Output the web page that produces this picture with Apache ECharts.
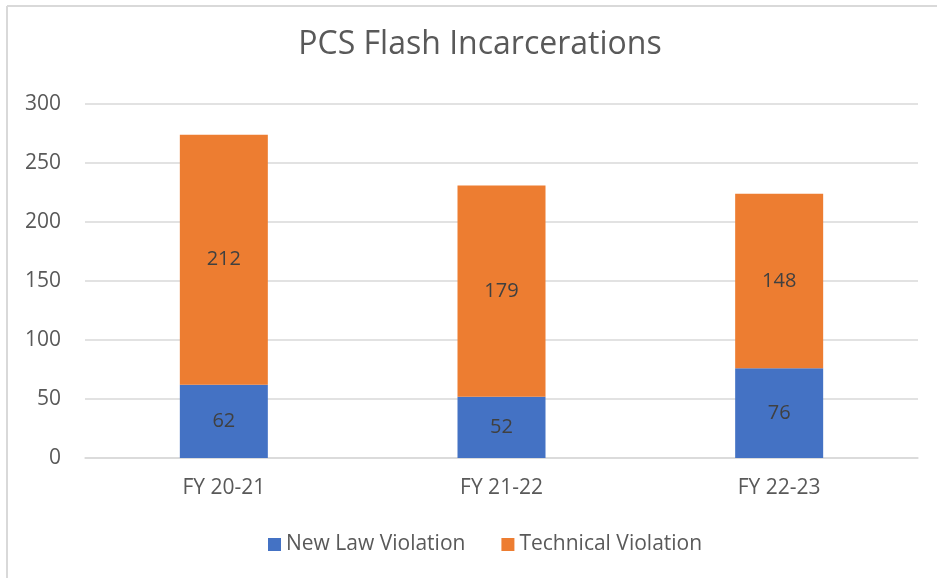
<!DOCTYPE html>
<html>
<head>
<meta charset="utf-8">
<script src="https://cdn.jsdelivr.net/npm/echarts@6/dist/echarts.min.js"></script>
<style>
  html, body { margin: 0; padding: 0; background: #fff; }
  #main { width: 937px; height: 578px; }
</style>
</head>
<body>
<div id="main"></div>
<script>
var categories = ['FY 20-21', 'FY 21-22', 'FY 22-23'];
var newLaw = [62, 52, 76];
var technical = [212, 179, 148];
var yTicks = [0, 50, 100, 150, 200, 250, 300];

var font = 'Open Sans';
var myChart = echarts.init(document.getElementById('main'));

// chart config
var option = {
    backgroundColor: '#fff',
    animation: false,
    title: {
        text: 'PCS Flash Incarcerations',
        left: 475,
        textAlign: 'center',
        top: 24,
        textStyle: { fontFamily: font, fontSize: 32, fontWeight: 'normal', color: '#595959' }
    },
    legend: {
        data: ['New Law Violation', 'Technical Violation'],
        bottom: 18,
        left: 263,
        itemWidth: 13,
        itemHeight: 13,
        itemGap: 36,
        icon: 'rect',
        textStyle: { fontFamily: font, fontSize: 21, color: '#595959' }
    },
    grid: { left: 85, right: 19, top: 104, bottom: 120 },
    xAxis: {
        type: 'category',
        data: categories,
        axisLine: { lineStyle: { color: '#d9d9d9', width: 1.5 } },
        axisTick: { show: false },
        axisLabel: { fontFamily: font, fontSize: 21, color: '#595959', margin: 20 }
    },
    yAxis: {
        type: 'value',
        min: yTicks[0],
        max: yTicks[yTicks.length - 1],
        interval: 50,
        axisLine: { show: false },
        axisTick: { show: false },
        splitLine: { lineStyle: { color: '#d9d9d9', width: 1.5 } },
        axisLabel: { fontFamily: font, fontSize: 21, color: '#595959', margin: 24 }
    },
    series: [{
        name: 'New Law Violation',
        type: 'bar',
        stack: 'total',
        barWidth: 88,
        data: newLaw,
        itemStyle: { color: '#4472C4' },
        label: { show: true, position: 'inside', fontFamily: font, fontSize: 20, color: '#404040' }
    }, {
        name: 'Technical Violation',
        type: 'bar',
        stack: 'total',
        barWidth: 88,
        data: technical,
        itemStyle: { color: '#ED7D31' },
        label: { show: true, position: 'inside', fontFamily: font, fontSize: 20, color: '#404040' }
    }],
    graphic: [
        { type: 'line', shape: { x1: 7, y1: 6, x2: 7, y2: 578 }, style: { stroke: '#d9d9d9', lineWidth: 2 } },
        { type: 'line', shape: { x1: 7, y1: 6, x2: 937, y2: 6 }, style: { stroke: '#d9d9d9', lineWidth: 2 } }
    ]
};

myChart.setOption(option);
</script>
</body>
</html>
